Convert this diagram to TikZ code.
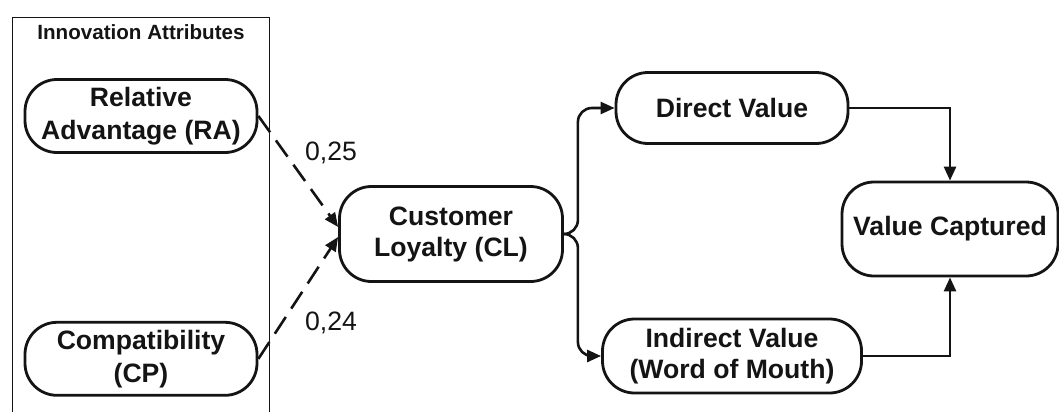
\documentclass[tikz,border=0pt]{standalone}
\usepackage{fontspec}
\setmainfont{Liberation Sans}
\usetikzlibrary{arrows.meta,positioning,calc}
\definecolor{ink}{RGB}{20,20,20}
\tikzset{
  flow/.style={-{Triangle[length=7pt,width=6pt]},line width=1.3pt,draw=ink},
  dashflow/.style={flow,dash pattern=on 10pt off 5pt},
  box/.style={rounded corners=16pt,draw=ink,line width=1.4pt,fill=white,
              align=center,inner sep=0pt,text=ink,
              font=\fontsize{13.3}{15.5}\selectfont\bfseries},
  attrbox/.style={box,minimum width=116pt,minimum height=36.5pt,
              font=\fontsize{13.3}{16.5}\selectfont\bfseries},
  weight/.style={text=ink,font=\fontsize{13.3}{16}\selectfont}
}

\begin{document}
\begin{tikzpicture}[x=0.5pt,y=-0.5pt]
  \useasboundingbox (0,0) rectangle (1059,412);
  % group frame, left open at the bottom
  \draw[line width=0.5pt,ink] (12,412) |- (269,17) -- (269,412);
  \node[text=ink,font=\fontsize{10.3}{12}\selectfont\bfseries] (grp) at (141,32) {Innovation Attributes};
  \node[attrbox] (ra) at (141,116) {Relative\\Advantage (RA)};
  \node[attrbox,below=83.5pt of ra] (cp) {Compatibility\\(CP)};
  \node[box,minimum width=111.5pt,minimum height=47.5pt] (cl) at (451,234) {Customer\\Loyalty (CL)};
  \node[box,minimum width=116pt,minimum height=35.5pt] (dv) at (732,108) {Direct Value};
  \node[box,minimum width=129.5pt,minimum height=37pt] (iv) at (732,356) {Indirect Value\\(Word of Mouth)};
  \node[box,minimum width=108pt,minimum height=47pt] (vc) at (950,229) {Value Captured};
  % path weights
  \draw[dashflow] (ra.east) -- ([yshift=3.5pt]cl.west);
  \draw[dashflow] (cp.east) -- ([yshift=-1.5pt]cl.west);
  \node[weight] (w1) at (331,153) {0,25};
  \node[weight] (w2) at (331,323) {0,24};
  % loyalty splits into the two value streams
  \coordinate (fork) at ($(cl.east)+(7pt,0)$);
  \draw[flow,rounded corners=7pt] (cl.east) -- (fork) |- (dv.west);
  \draw[flow,rounded corners=7pt] (cl.east) -- (fork) |- (iv.west);
  \draw[flow] (dv.east) -| (vc.north);
  \draw[flow] (iv.east) -| (vc.south);
\end{tikzpicture}
\end{document}
